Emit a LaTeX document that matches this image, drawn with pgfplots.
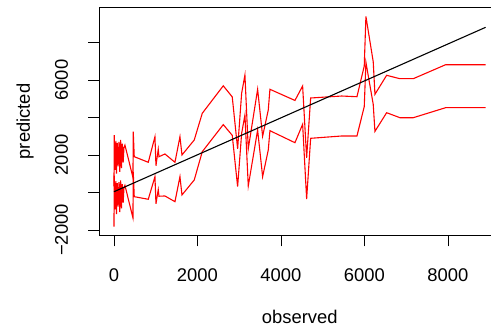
\documentclass[border=0pt]{standalone}
\usepackage{pgfplots}
\usepackage{pgfplotstable}
\pgfplotsset{compat=1.18}
\usepackage{fontspec}
\setmainfont{Liberation Sans}
\pgfplotstableread{
x U L
0 330 -1820
8 3060 900
25 1200 -900
45 2750 600
60 1000 -1150
80 2650 500
100 1400 -750
120 2700 550
140 1100 -1050
160 2800 650
180 1300 -850
200 2600 450
220 1600 -550
240 2400 250
263 2530 380
455 800 -1360
462 3240 1090
486 1909 -224
822 1610 -363
982 2976 843
1006 1429 -600
1061 2304 150
1078 1909 -200
1221 2053 -187
1461 1610 -491
1581 2976 843
1629 2000 -133
1923 2800 667
2115 4224 2176
2618 5690 3620
2833 5100 3050
2962 2330 309
3058 5290 3150
3137 6266 4133
3217 2330 347
3441 5504 3333
3561 3000 843
3696 4400 2267
3736 5504 3296
4335 4910 2656
4519 5680 3637
4615 1850 -347
4711 5040 2890
5453 5146 3013
5820 5109 3013
5995 6746 4576
6035 9390 6944
6210 6976 4700
6251 5237 3260
6531 6250 4256
6850 6070 3989
7169 6070 3989
7944 6816 4523
8902 6816 4523
}\preds
\begin{document}
\fontsize{18.4}{22}\selectfont
\begin{tikzpicture}
\begin{axis}[at={(0,0)}, anchor=south west, scale only axis,
  width=401.3pt, height=227.8pt,
  xmin=-356, xmax=9256, ymin=-2290, ymax=9863,
  xtick={0,2000,4000,6000,8000}, xticklabels={0,2000,4000,6000,8000},
  ytick={-2000,0,2000,4000,6000,8000}, yticklabels={−2000,,2000,,6000,},
  tick pos=left, tick align=outside, major tick length=11pt,
  tick style={black, line width=0.9pt},
  axis line style={line width=0.9pt},
  xticklabel style={anchor=center, yshift=-29pt},
  yticklabel style={rotate=90, anchor=center, yshift=26.5pt},
  xlabel={observed}, ylabel={predicted},
  xlabel style={at={(axis description cs:0.5,0)}, anchor=center, yshift=-81.6pt},
  ylabel style={at={(axis description cs:0,0.5)}, anchor=center, rotate=0, yshift=74pt},
  clip=true,
]
\addplot[red, line width=1.1pt] table[x=x, y=U] {\preds};
\addplot[red, line width=1.1pt] table[x=x, y=L] {\preds};
\addplot[black, line width=1.1pt] coordinates {(0,40) (8902,8811)};
\end{axis}
\pgfresetboundingbox
\useasboundingbox (-99.1pt,-95.6pt) rectangle (391.9pt,235.4pt);
\end{tikzpicture}
\end{document}
